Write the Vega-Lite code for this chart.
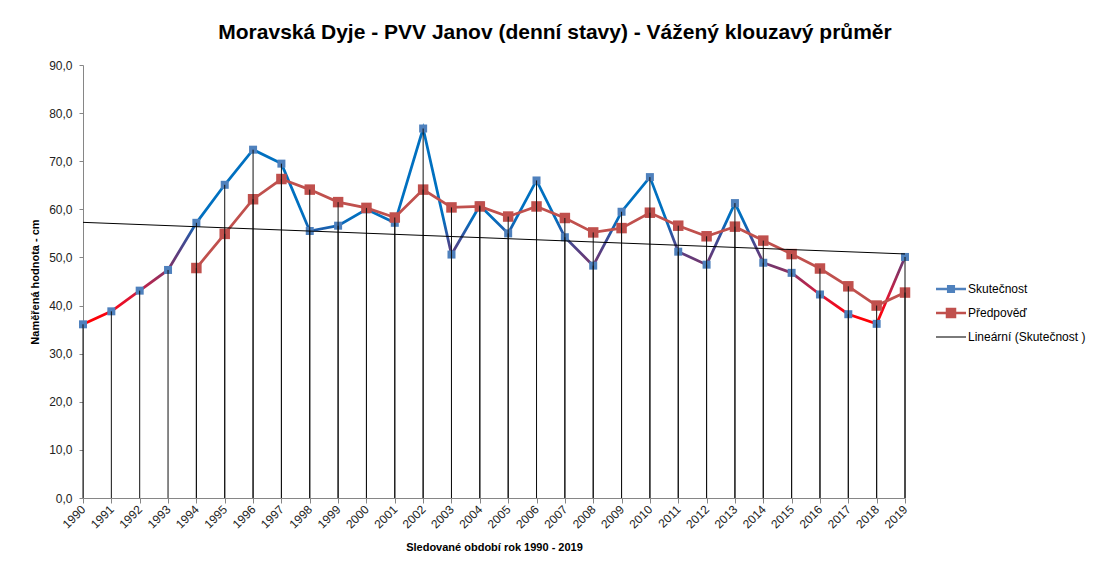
{
  "$schema": "https://vega.github.io/schema/vega-lite/v6.json",
  "width": 822,
  "height": 433,
  "autosize": {"type": "none"},
  "padding": {"left": 83, "top": 65, "right": 192, "bottom": 71},
  "background": "white",
  "config": {"view": {"stroke": null}, "font": "Liberation Sans"},
  "title": {
    "text": "Moravská Dyje - PVV Janov (denní stavy) - Vážený klouzavý průměr",
    "font": "Liberation Sans",
    "fontSize": 21,
    "fontWeight": "bold",
    "color": "#000000",
    "anchor": "middle",
    "frame": "group",
    "dx": 61,
    "baseline": "alphabetic",
    "offset": -1
  },
  "data": {
    "values": [
      {"year": 1990, "series": "Skutečnost", "value": 36.1},
      {"year": 1991, "series": "Skutečnost", "value": 38.8},
      {"year": 1992, "series": "Skutečnost", "value": 43.1},
      {"year": 1993, "series": "Skutečnost", "value": 47.4},
      {"year": 1994, "series": "Skutečnost", "value": 57.2},
      {"year": 1995, "series": "Skutečnost", "value": 65.1},
      {"year": 1996, "series": "Skutečnost", "value": 72.4},
      {"year": 1997, "series": "Skutečnost", "value": 69.5},
      {"year": 1998, "series": "Skutečnost", "value": 55.5},
      {"year": 1999, "series": "Skutečnost", "value": 56.6},
      {"year": 2000, "series": "Skutečnost", "value": 60.0},
      {"year": 2001, "series": "Skutečnost", "value": 57.2},
      {"year": 2002, "series": "Skutečnost", "value": 76.8},
      {"year": 2003, "series": "Skutečnost", "value": 50.6},
      {"year": 2004, "series": "Skutečnost", "value": 60.8},
      {"year": 2005, "series": "Skutečnost", "value": 55.0},
      {"year": 2006, "series": "Skutečnost", "value": 66.0},
      {"year": 2007, "series": "Skutečnost", "value": 54.2},
      {"year": 2008, "series": "Skutečnost", "value": 48.3},
      {"year": 2009, "series": "Skutečnost", "value": 59.5},
      {"year": 2010, "series": "Skutečnost", "value": 66.7},
      {"year": 2011, "series": "Skutečnost", "value": 51.2},
      {"year": 2012, "series": "Skutečnost", "value": 48.5},
      {"year": 2013, "series": "Skutečnost", "value": 61.3},
      {"year": 2014, "series": "Skutečnost", "value": 48.9},
      {"year": 2015, "series": "Skutečnost", "value": 46.8},
      {"year": 2016, "series": "Skutečnost", "value": 42.3},
      {"year": 2017, "series": "Skutečnost", "value": 38.2},
      {"year": 2018, "series": "Skutečnost", "value": 36.2},
      {"year": 2019, "series": "Skutečnost", "value": 50.1},
      {"year": 1994, "series": "Předpověď", "value": 47.8},
      {"year": 1995, "series": "Předpověď", "value": 54.9},
      {"year": 1996, "series": "Předpověď", "value": 62.1},
      {"year": 1997, "series": "Předpověď", "value": 66.3},
      {"year": 1998, "series": "Předpověď", "value": 64.1},
      {"year": 1999, "series": "Předpověď", "value": 61.5},
      {"year": 2000, "series": "Předpověď", "value": 60.3},
      {"year": 2001, "series": "Předpověď", "value": 58.3},
      {"year": 2002, "series": "Předpověď", "value": 64.1},
      {"year": 2003, "series": "Předpověď", "value": 60.4},
      {"year": 2004, "series": "Předpověď", "value": 60.6},
      {"year": 2005, "series": "Předpověď", "value": 58.5},
      {"year": 2006, "series": "Předpověď", "value": 60.6},
      {"year": 2007, "series": "Předpověď", "value": 58.2},
      {"year": 2008, "series": "Předpověď", "value": 55.2},
      {"year": 2009, "series": "Předpověď", "value": 56.1},
      {"year": 2010, "series": "Předpověď", "value": 59.3},
      {"year": 2011, "series": "Předpověď", "value": 56.6},
      {"year": 2012, "series": "Předpověď", "value": 54.4},
      {"year": 2013, "series": "Předpověď", "value": 56.4},
      {"year": 2014, "series": "Předpověď", "value": 53.5},
      {"year": 2015, "series": "Předpověď", "value": 50.7},
      {"year": 2016, "series": "Předpověď", "value": 47.7},
      {"year": 2017, "series": "Předpověď", "value": 44.0},
      {"year": 2018, "series": "Předpověď", "value": 40.0},
      {"year": 2019, "series": "Předpověď", "value": 42.7}
    ]
  },
  "encoding": {
    "x": {
      "field": "year",
      "type": "quantitative",
      "scale": {"domain": [1990, 2019], "nice": false, "zero": false},
      "axis": {
        "title": "Sledované období rok 1990 - 2019",
        "titleFont": "Liberation Sans",
        "titleFontSize": 11,
        "titleFontWeight": "bold",
        "titleColor": "#000000",
        "titlePadding": 11,
        "format": "d",
        "tickCount": 30,
        "labelAngle": -45,
        "labelAlign": "right",
        "labelBaseline": "middle",
        "labelFontSize": 12,
        "labelColor": "#222222",
        "labelPadding": 4,
        "labelOverlap": false,
        "labelFlush": false,
        "grid": false,
        "domainColor": "#868686",
        "tickColor": "#868686",
        "tickSize": 5
      }
    },
    "y": {
      "field": "value",
      "type": "quantitative",
      "scale": {"domain": [0, 90], "nice": false},
      "axis": {
        "title": "Naměřená hodnota - cm",
        "titleFont": "Liberation Sans",
        "titleFontSize": 11,
        "titleFontWeight": "bold",
        "titleColor": "#000000",
        "titlePadding": 8,
        "tickCount": 9,
        "labelExpr": "replace(format(datum.value, '.1f'), '.', ',')",
        "labelFontSize": 12,
        "labelColor": "#222222",
        "labelPadding": 7,
        "grid": false,
        "domainColor": "#868686",
        "tickColor": "#868686",
        "tickSize": 4
      }
    }
  },
  "layer": [
    {
      "transform": [{"filter": "datum.series === 'Skutečnost'"}],
      "mark": {
        "type": "line",
        "strokeWidth": 2.75,
        "stroke": {
          "gradient": "linear",
          "x1": 0, "y1": 1, "x2": 0, "y2": 0,
          "stops": [
            {"offset": 0, "color": "#FF0000"},
            {"offset": 0.07, "color": "#F80515"},
            {"offset": 0.145, "color": "#D81838"},
            {"offset": 0.22, "color": "#A82A55"},
            {"offset": 0.292, "color": "#7A3468"},
            {"offset": 0.366, "color": "#5A3E80"},
            {"offset": 0.44, "color": "#3A4E98"},
            {"offset": 0.514, "color": "#0C68B8"},
            {"offset": 0.56, "color": "#0070C0"},
            {"offset": 1, "color": "#0070C0"}
          ]
        }
      }
    },
    {
      "transform": [{"filter": "datum.series === 'Předpověď'"}],
      "mark": {"type": "line", "stroke": "#C0504D", "strokeWidth": 2.75}
    },
    {
      "transform": [{"filter": "datum.series === 'Skutečnost'"}],
      "mark": {"type": "point", "shape": "square", "filled": true, "size": 64, "opacity": 1},
      "encoding": {
        "color": {
          "field": "series",
          "type": "nominal",
          "scale": {
            "domain": ["Skutečnost", "Předpověď", "Lineární (Skutečnost )"],
            "range": ["#4F81BD", "#C0504D", "#000000"]
          },
          "legend": {
            "title": null,
            "orient": "none",
            "legendX": 853,
            "legendY": 209,
            "symbolSize": 900,
            "symbolStrokeWidth": 0,
            "symbolType": {"expr": "datum.value === 'Skutečnost' ? 'M-1,-0.09L-0.27,-0.09L-0.27,-0.27L0.27,-0.27L0.27,-0.09L1,-0.09L1,0.09L0.27,0.09L0.27,0.27L-0.27,0.27L-0.27,0.09L-1,0.09Z' : datum.value === 'Předpověď' ? 'M-1,-0.09L-0.35,-0.09L-0.35,-0.35L0.35,-0.35L0.35,-0.09L1,-0.09L1,0.09L0.35,0.09L0.35,0.35L-0.35,0.35L-0.35,0.09L-1,0.09Z' : 'M-1,-0.035L1,-0.035L1,0.035L-1,0.035Z'"},
            "labelFont": "Liberation Sans",
            "labelFontSize": 12,
            "labelColor": "#000000",
            "labelOffset": 2,
            "rowPadding": 3
          }
        }
      }
    },
    {
      "transform": [{"filter": "datum.series === 'Předpověď'"}],
      "mark": {"type": "point", "shape": "square", "filled": true, "size": 110, "opacity": 1},
      "encoding": {
        "color": {
          "field": "series",
          "type": "nominal",
          "scale": {
            "domain": ["Skutečnost", "Předpověď", "Lineární (Skutečnost )"],
            "range": ["#4F81BD", "#C0504D", "#000000"]
          }
        }
      }
    },
    {
      "mark": {"type": "rule", "color": "#111111", "strokeWidth": 1},
      "encoding": {"y2": {"datum": 0}}
    },
    {
      "transform": [
        {"filter": "datum.series === 'Skutečnost'"},
        {"regression": "value", "on": "year"}
      ],
      "mark": {"type": "line", "stroke": "#000000", "strokeWidth": 1}
    }
  ]
}
